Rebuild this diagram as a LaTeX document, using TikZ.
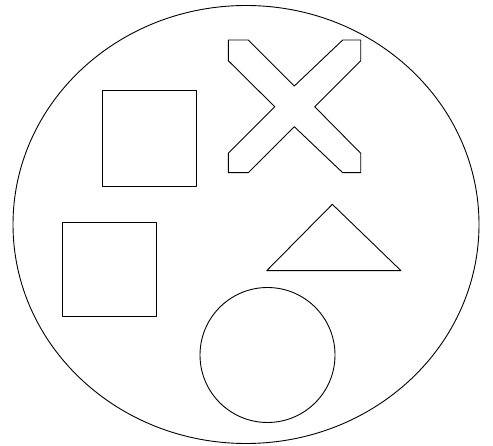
\documentclass[tikz,border=0pt]{standalone}
\begin{document}
\begin{tikzpicture}[x=1pt,y=-1pt,line width=0.9pt,line join=round]
  \useasboundingbox (0,0) rectangle (493,446);
  % outer ring
  \draw (246,224.5) ellipse (233 and 219);
  % upper square
  \draw (102.3,90) rectangle (196.3,186.3);
  % lower square
  \draw (62,222) rectangle (156.7,316.3);
  % the cross
  \draw plot coordinates {(228.3,40) (248.3,40) (294.3,86) (342.7,40) (360.7,40) (360.7,60.7) (314.7,106.7) (360.7,153.3) (360.7,172.7) (342.7,172.7) (294.3,126.7) (248.3,172.7) (228.3,172.7) (228.3,153.3) (274.7,106.7) (228.3,60.7)} -- cycle;
  % triangle
  \draw (332.3,204.3) -- (401,270.7) -- (266.7,270.7) -- cycle;
  % circle
  \draw (267.5,355) circle (67.5);
\end{tikzpicture}
\end{document}
